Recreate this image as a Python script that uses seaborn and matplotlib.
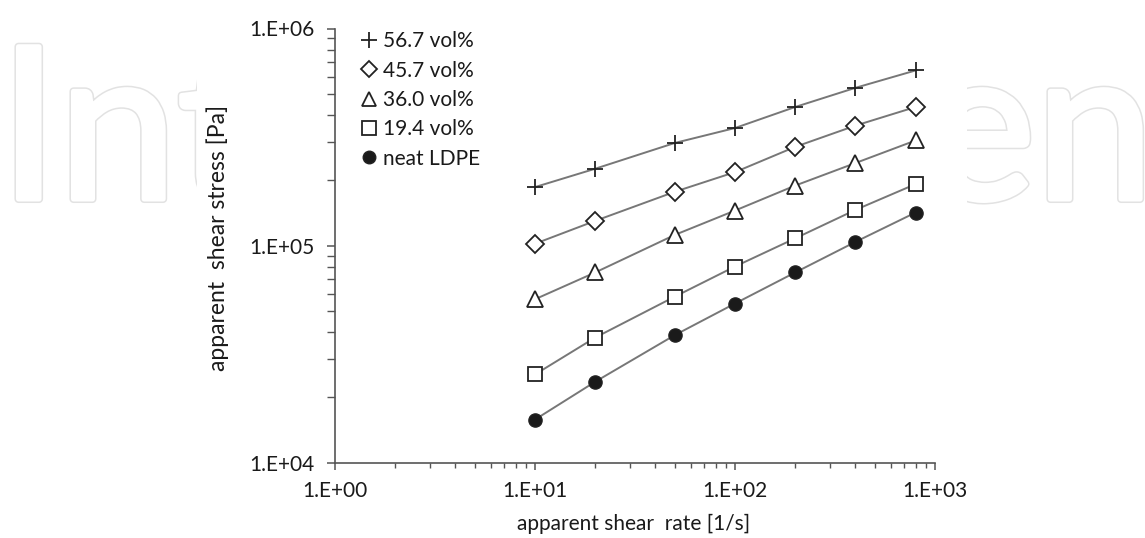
import numpy as np
import pandas as pd
import matplotlib
matplotlib.use("Agg")
import matplotlib.pyplot as plt
import matplotlib.patheffects as pe
from matplotlib.lines import Line2D
from matplotlib.transforms import Bbox, TransformedBbox
from matplotlib.ticker import LogLocator, FuncFormatter, NullFormatter
import seaborn as sns

# Apparent shear rate [1/s]
shear_rate = [10, 20, 50, 100, 200, 400, 800]

# Apparent shear stress [Pa] for each filler content
stress_56_7 = [1.86e5, 2.26e5, 2.97e5, 3.48e5, 4.35e5, 5.33e5, 6.41e5]
stress_45_7 = [1.02e5, 1.30e5, 1.77e5, 2.18e5, 2.85e5, 3.57e5, 4.35e5]
stress_36_0 = [5.66e4, 7.52e4, 1.12e5, 1.45e5, 1.89e5, 2.40e5, 3.05e5]
stress_19_4 = [2.55e4, 3.77e4, 5.82e4, 8.01e4, 1.08e5, 1.46e5, 1.92e5]
stress_ldpe = [1.58e4, 2.36e4, 3.87e4, 5.41e4, 7.52e4, 1.04e5, 1.42e5]

series_labels = ["56.7 vol%", "45.7 vol%", "36.0 vol%", "19.4 vol%", "neat LDPE"]
series_values = [stress_56_7, stress_45_7, stress_36_0, stress_19_4, stress_ldpe]

x_ticks = [1e0, 1e1, 1e2, 1e3]
y_ticks = [1e4, 1e5, 1e6]

sns.set_theme(style="white")
plt.rcParams["font.family"] = ["Lato", "DejaVu Sans"]

frames = []
for lab, vals in zip(series_labels, series_values):
    frames.append(pd.DataFrame({"rate": shear_rate, "stress": vals, "series": lab}))
df = pd.concat(frames, ignore_index=True)

marker_styles = {
    "56.7 vol%": dict(marker="+", ms=12, mfc="none", mew=1.3),
    "45.7 vol%": dict(marker="D", ms=9, mfc="white", mew=1.3),
    "36.0 vol%": dict(marker="^", ms=11, mfc="white", mew=1.3),
    "19.4 vol%": dict(marker="s", ms=10, mfc="white", mew=1.3),
    "neat LDPE": dict(marker="o", ms=9.5, mfc="#1a1a1a", mew=1.0),
}
line_color = "#777777"
edge_color = "#222222"
text_color = "#1a1a1a"
axis_color = "#555555"

W, H = 1145, 538
fig = plt.figure(figsize=(W / 100, H / 100), dpi=100)
fig.patch.set_facecolor("white")

# faint, heavy outlined publisher word, visible only on both sides of the chart
wm_effects = [pe.Stroke(linewidth=5.8, foreground="#e2e2e2"),
              pe.Stroke(linewidth=3.6, foreground="white"),
              pe.Normal()]
wm_kw = dict(fontsize=153, color="white", va="baseline", zorder=-3,
             family=["Lato", "DejaVu Sans"], path_effects=wm_effects)
left_word = fig.text(-1 / W, 1 - 199 / H, "Int", ha="left", **wm_kw)
left_word.set_clip_box(TransformedBbox(Bbox([[0, 0], [197 / W, 1]]), fig.transFigure))
left_word.set_clip_on(True)
right_word = fig.text(1154 / W, 1 - 199 / H, "en", ha="right", **wm_kw)
right_word.set_clip_box(TransformedBbox(Bbox([[967 / W, 0], [1, 1]]), fig.transFigure))
right_word.set_clip_on(True)

ax_left, ax_right, ax_top, ax_bottom = 335, 935, 28.5, 462.7
ax = fig.add_axes([ax_left / W, 1 - ax_bottom / H,
                   (ax_right - ax_left) / W, (ax_bottom - ax_top) / H])
ax.set_facecolor("none")

for lab in series_labels:
    st = marker_styles[lab]
    sns.lineplot(data=df[df["series"] == lab], x="rate", y="stress", ax=ax,
                 color=line_color, lw=1.4, marker=st["marker"], markersize=st["ms"],
                 markerfacecolor=st["mfc"], markeredgecolor=edge_color,
                 markeredgewidth=st["mew"], legend=False, zorder=3)

ax.set_xscale("log")
ax.set_yscale("log")
ax.set_xlim(1, 1000)
ax.set_ylim(1e4, 1e6)

fmt = FuncFormatter(lambda v, p: "1.E+%02d" % int(round(np.log10(v))))
ax.set_xticks(x_ticks)
ax.set_yticks(y_ticks)
ax.xaxis.set_major_formatter(fmt)
ax.yaxis.set_major_formatter(fmt)
ax.xaxis.set_minor_locator(LogLocator(base=10, subs=np.arange(2, 10)))
ax.yaxis.set_minor_locator(LogLocator(base=10, subs=np.arange(2, 10)))
ax.xaxis.set_minor_formatter(NullFormatter())
ax.yaxis.set_minor_formatter(NullFormatter())

for side in ["top", "right"]:
    ax.spines[side].set_visible(False)
for side in ["left", "bottom"]:
    ax.spines[side].set_color(axis_color)
    ax.spines[side].set_linewidth(1.2)

ax.tick_params(axis="both", which="both", bottom=True, left=True, top=False, right=False,
               direction="out", color=axis_color)
ax.tick_params(axis="x", which="major", length=5, width=1.1, labelsize=15,
               labelcolor=text_color, pad=8)
ax.tick_params(axis="x", which="minor", length=3.5, width=1.0)
ax.tick_params(axis="y", which="major", length=5.5, width=1.1, labelsize=15,
               labelcolor=text_color, pad=9)
ax.tick_params(axis="y", which="minor", length=5.5, width=1.0)

ax.set_xlabel("apparent shear  rate [1/s]", fontsize=15, color=text_color)
ax.set_ylabel("apparent  shear stress [Pa]", fontsize=16.5, color=text_color)
ax.xaxis.set_label_coords((634 - ax_left) / (ax_right - ax_left),
                          -(514 - ax_bottom) / (ax_bottom - ax_top))
ax.yaxis.set_label_coords(-(ax_left - 229) / (ax_right - ax_left),
                          (ax_bottom - 238) / (ax_bottom - ax_top))

handles = []
for lab in series_labels:
    st = marker_styles[lab]
    handles.append(Line2D([], [], ls="none", marker=st["marker"], markersize=st["ms"] * 0.95,
                          markerfacecolor=st["mfc"], markeredgecolor=edge_color,
                          markeredgewidth=st["mew"]))
leg = ax.legend(handles, series_labels, loc="upper left", bbox_to_anchor=(0.03, 1.013),
                frameon=False, fontsize=15, handlelength=0.7, handletextpad=0.35,
                labelspacing=0.45, borderaxespad=0)
for t in leg.get_texts():
    t.set_color(text_color)

fig.savefig("out.png", dpi=100, facecolor="white")
